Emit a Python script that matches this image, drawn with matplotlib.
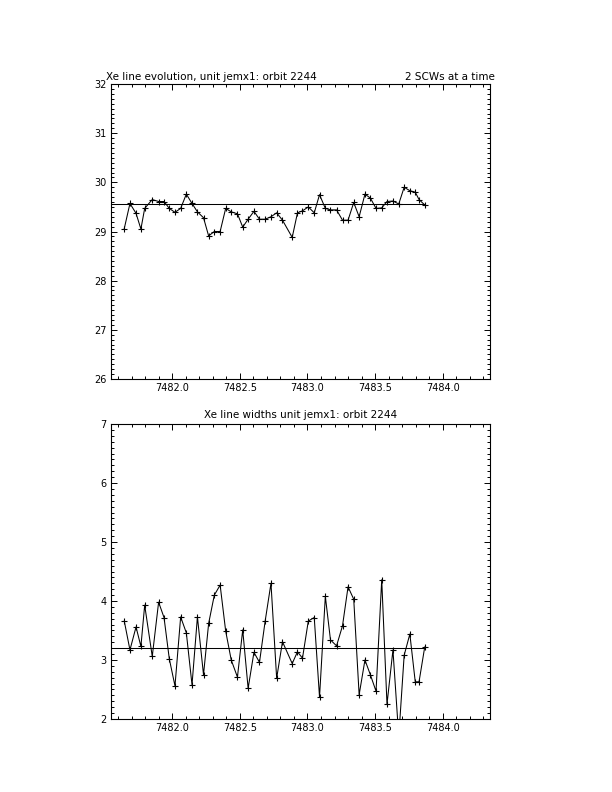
import numpy as np
import matplotlib
matplotlib.use("Agg")
import matplotlib.pyplot as plt
from matplotlib.ticker import MultipleLocator, FormatStrFormatter

# time of each 2-SCW group (IJD, days)
t_ijd = [7481.645, 7481.687, 7481.732, 7481.768, 7481.796, 7481.852, 7481.899, 7481.939,
         7481.978, 7482.020, 7482.062, 7482.104, 7482.146, 7482.186, 7482.231, 7482.269,
         7482.311, 7482.354, 7482.395, 7482.436, 7482.482, 7482.521, 7482.561, 7482.604,
         7482.645, 7482.687, 7482.730, 7482.772, 7482.815, 7482.887, 7482.926, 7482.963,
         7483.006, 7483.050, 7483.089, 7483.132, 7483.170, 7483.215, 7483.259, 7483.300,
         7483.342, 7483.382, 7483.425, 7483.465, 7483.507, 7483.549, 7483.588, 7483.632,
         7483.675, 7483.715, 7483.757, 7483.797, 7483.825, 7483.867]

# Xe line position
line_pos = [29.06, 29.57, 29.37, 29.05, 29.47, 29.65, 29.61, 29.61,
            29.47, 29.39, 29.47, 29.76, 29.57, 29.40, 29.28, 28.91,
            29.00, 29.00, 29.47, 29.40, 29.36, 29.09, 29.25, 29.41,
            29.25, 29.25, 29.30, 29.38, 29.23, 28.88, 29.38, 29.42,
            29.50, 29.38, 29.75, 29.47, 29.44, 29.44, 29.23, 29.23,
            29.59, 29.30, 29.76, 29.68, 29.47, 29.48, 29.61, 29.62,
            29.56, 29.90, 29.83, 29.80, 29.65, 29.54]

# Xe line width
line_width = [3.66, 3.17, 3.56, 3.23, 3.93, 3.06, 3.98, 3.72,
              3.02, 2.56, 3.73, 3.46, 2.58, 3.73, 2.75, 3.62,
              4.10, 4.27, 3.49, 3.00, 2.71, 3.51, 2.52, 3.13,
              2.96, 3.66, 4.30, 2.69, 3.31, 2.94, 3.14, 3.03,
              3.66, 3.72, 2.37, 4.08, 3.34, 3.24, 3.58, 4.24,
              4.03, 2.41, 3.00, 2.75, 2.47, 4.36, 2.25, 3.17,
              1.70, 3.08, 3.44, 2.63, 2.63, 3.22]

pos_ref = 29.55
width_ref = 3.21

x_range = (7481.547, 7484.35)
pos_range = (26, 32)
width_range = (2, 7)
x_ticks = [7482.0, 7482.5, 7483.0, 7483.5, 7484.0]


def idl_axes(ax, ylim):
    # IDL-like frame: ticks inward on all four sides
    ax.set_xlim(*x_range)
    ax.set_ylim(*ylim)
    ax.set_xticks(x_ticks)
    ax.xaxis.set_minor_locator(MultipleLocator(0.1))
    ax.yaxis.set_major_locator(MultipleLocator(1))
    ax.yaxis.set_minor_locator(MultipleLocator(0.1))
    ax.xaxis.set_major_formatter(FormatStrFormatter("%.1f"))
    ax.yaxis.set_major_formatter(FormatStrFormatter("%d"))
    ax.tick_params(which="both", direction="in", top=True, right=True,
                   width=0.7, labelsize=7, pad=3)
    ax.tick_params(which="major", length=4.5)
    ax.tick_params(which="minor", length=2.2)
    for sp in ax.spines.values():
        sp.set_linewidth(0.8)


plt.rcParams['font.family'] = ['DejaVu Sans']
fig = plt.figure(figsize=(6.12, 7.92), dpi=100)

# --- top: line position ---
ax1 = fig.add_axes([0.1814, 0.5215, 0.6193, 0.3724])
ax1.plot(t_ijd, line_pos, 'k-', marker='+', ms=5, mew=0.8, lw=0.75)
ax1.plot([x_range[0], t_ijd[-1]], [pos_ref, pos_ref], 'k-', lw=0.75)
idl_axes(ax1, pos_range)
fig.text(106 / 612, 1 - 80 / 792, "Xe line evolution, unit jemx1: orbit 2244",
         fontsize=7.5, ha="left", va="baseline")
fig.text(495 / 612, 1 - 80 / 792, "2 SCWs at a time",
         fontsize=7.5, ha="right", va="baseline")

# --- bottom: line width ---
ax2 = fig.add_axes([0.1814, 0.0922, 0.6193, 0.3724])
ax2.plot(t_ijd, line_width, 'k-', marker='+', ms=5, mew=0.8, lw=0.75)
ax2.plot([x_range[0], t_ijd[-1]], [width_ref, width_ref], 'k-', lw=0.75)
idl_axes(ax2, width_range)
ax2.set_title("Xe line widths unit jemx1: orbit 2244", fontsize=7.5, pad=4)

fig.savefig("out.png", dpi=100)
